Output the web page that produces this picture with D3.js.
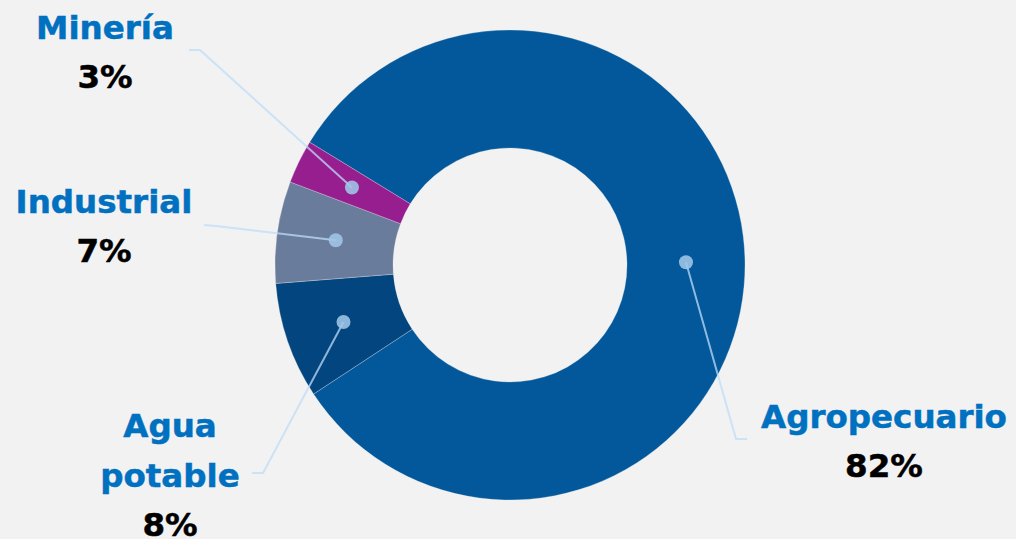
<!DOCTYPE html>
<html>
<head>
<meta charset="utf-8">
<script src="https://cdn.jsdelivr.net/npm/d3@7"></script>
<style>
  html, body { margin: 0; padding: 0; background: #F2F2F2; }
  svg { display: block; }
  text { font-family: "DejaVu Sans", Verdana, sans-serif; font-weight: bold; }
</style>
</head>
<body>
<svg id="chart" width="1016" height="539"></svg>
<script>
// ---- data ----
const categories = ["Agropecuario", "Agua potable", "Industrial", "Minería"];
const values = [82, 8, 7, 3];
const valueLabels = ["82%", "8%", "7%", "3%"];
const nameLines = [["Agropecuario"], ["Agua", "potable"], ["Industrial"], ["Minería"]];

// ---- styles / layout (not data) ----
const colors = ["#02589B", "#03467F", "#6A7C9C", "#961E8F"];
const W = 1016, H = 539;
const cx = 510, cy = 265, rOuter = 235, rInner = 117;
const startDeg = -58.5;
// label block: x center, y of first baseline; leader: elbow point and end point
const layout = {
  "Agropecuario": { x: 884, y: 428, elbow: [736, 439], end: [747, 439] },
  "Agua potable": { x: 170, y: 437, elbow: [263, 473], end: [252, 473] },
  "Industrial":   { x: 104, y: 213, elbow: [216, 226], end: [204, 225] },
  "Minería":      { x: 105, y: 39,  elbow: [200, 50],  end: [189, 50] }
};
const lineH = 50;
const fontSize = 32.5;

const svg = d3.select("#chart");
svg.append("rect").attr("width", W).attr("height", H).attr("fill", "#F2F2F2");

const data = categories.map((c, i) => ({ name: c, value: values[i], label: valueLabels[i], lines: nameLines[i], color: colors[i] }));

const pie = d3.pie().sort(null).value(d => d.value)
  .startAngle(startDeg * Math.PI / 180)
  .endAngle((startDeg + 360) * Math.PI / 180);
const arcs = pie(data);

const arc = d3.arc().innerRadius(rInner).outerRadius(rOuter);
const midArc = d3.arc().innerRadius(176).outerRadius(176);

const g = svg.append("g").attr("transform", `translate(${cx},${cy})`);
g.selectAll("path.slice").data(arcs).join("path")
  .attr("class", "slice")
  .attr("d", arc)
  .attr("fill", d => d.data.color)
  .attr("stroke", "rgba(242,242,242,0.35)")
  .attr("stroke-width", 0.8);

// leader lines
arcs.forEach(d => {
  const L = layout[d.data.name];
  const c = midArc.centroid(d);
  const p0 = [cx + c[0], cy + c[1]];
  svg.append("polyline")
    .attr("points", [p0, L.elbow, L.end].map(p => p.join(",")).join(" "))
    .attr("fill", "none")
    .attr("stroke", "rgba(189,220,248,0.75)")
    .attr("stroke-width", 2);
  svg.append("circle")
    .attr("cx", p0[0]).attr("cy", p0[1]).attr("r", 7)
    .attr("fill", "rgba(160,198,232,0.88)");
});

// labels
arcs.forEach(d => {
  const L = layout[d.data.name];
  const t = svg.append("g");
  d.data.lines.forEach((ln, i) => {
    t.append("text")
      .attr("x", L.x).attr("y", L.y + i * lineH)
      .attr("text-anchor", "middle")
      .attr("font-size", fontSize)
      .attr("fill", "#0070C0")
      .attr("stroke", "#0070C0")
      .attr("stroke-width", 0.5)
      .text(ln);
  });
  t.append("text")
    .attr("x", L.x).attr("y", L.y + d.data.lines.length * lineH - 1)
    .attr("text-anchor", "middle")
    .attr("font-size", fontSize)
    .attr("fill", "#000000")
    .attr("stroke", "#000000")
    .attr("stroke-width", 0.5)
    .text(d.data.label);
});
</script>
</body>
</html>
